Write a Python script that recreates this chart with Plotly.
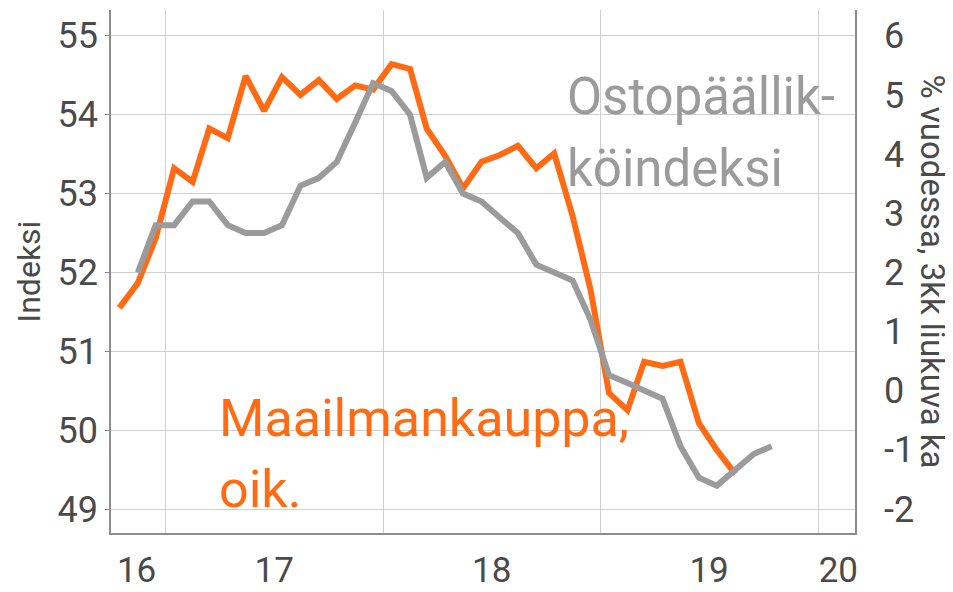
import pandas as pd
import plotly.graph_objects as go

# ---- data ----
pmi_months = pd.date_range("2016-11-01", "2019-10-01", freq="MS")
pmi_values = [52.0, 52.6, 52.6, 52.9, 52.9, 52.6, 52.5, 52.5, 52.6, 53.1, 53.2, 53.4,
              53.9, 54.4, 54.3, 54.0, 53.2, 53.4, 53.0, 52.9, 52.7, 52.5, 52.1, 52.0,
              51.9, 51.4, 50.7, 50.6, 50.5, 50.4, 49.8, 49.4, 49.3, 49.5, 49.7, 49.8]

trade_months = pd.date_range("2016-10-01", "2019-08-01", freq="MS")
trade_values = [1.40, 1.82, 2.58, 3.76, 3.53, 4.43, 4.27, 5.32, 4.73, 5.30, 5.00, 5.25,
                4.93, 5.16, 5.09, 5.52, 5.44, 4.43, 3.97, 3.42, 3.87, 3.98, 4.14, 3.76,
                4.01, 2.95, 1.71, -0.04, -0.33, 0.49, 0.42, 0.49, -0.55, -1.00, -1.41]

left_ticks = [49, 50, 51, 52, 53, 54, 55]
right_ticks = [-2, -1, 0, 1, 2, 3, 4, 5, 6]
year_lines = ["2017-01-01", "2018-01-01", "2019-01-01", "2020-01-01"]
x_label_pos = ["2016-11-13", "2017-07-02", "2018-07-02", "2019-07-02", "2020-02-04"]
x_label_text = ["16", "17", "18", "19", "20"]

ORANGE = "#FF6A13"
GRAY = "#9B9B9B"
TXT = "#4A4A4A"
GRID = "#CFCFCF"
AXL = "#8C8C8C"
FONT = "Roboto"

mid = pd.Timedelta(days=14)
xrange_ = ["2016-10-01", "2020-03-03"]

fig = go.Figure()
# orange on the base (right-side) axis so the gray line is drawn on top
fig.add_trace(go.Scatter(x=trade_months + mid, y=trade_values, mode="lines",
                         line=dict(color=ORANGE, width=6), yaxis="y", xaxis="x",
                         name="Maailmankauppa"))
fig.add_trace(go.Scatter(x=pmi_months + mid, y=pmi_values, mode="lines",
                         line=dict(color=GRAY, width=6), yaxis="y2", xaxis="x",
                         name="Ostopäällikköindeksi"))
# empty trace so the label-only x axis gets drawn
fig.add_trace(go.Scatter(x=[], y=[], xaxis="x2", yaxis="y", hoverinfo="skip"))

# page body has an 8px default margin -> size the figure so the plot area lands right
fig.update_layout(
    width=945, height=584,
    margin=dict(l=103, r=98, t=2, b=59, autoexpand=False),
    paper_bgcolor="white", plot_bgcolor="white",
    showlegend=False,
    font=dict(family=FONT, color=TXT),
    xaxis=dict(type="date", range=xrange_, tickvals=year_lines, showticklabels=False,
               showgrid=True, gridcolor=GRID, gridwidth=1, showline=True, linecolor=AXL,
               linewidth=1.5, ticks="", zeroline=False, automargin=False),
    xaxis2=dict(type="date", range=xrange_, overlaying="x", anchor="y", side="bottom",
                tickvals=x_label_pos, ticktext=x_label_text, showgrid=False, showline=False,
                ticks="", tickfont=dict(size=35, color=TXT), ticklabelstandoff=13,
                zeroline=False, automargin=False),
    yaxis=dict(side="right", range=[-2.405, 6.435], tickvals=right_ticks,
               ticktext=[str(v) for v in right_ticks],
               showgrid=False, showline=True, linecolor=AXL, linewidth=1.5, ticks="",
               tickfont=dict(size=36, color=TXT), ticklabelstandoff=20, zeroline=False,
               automargin=False),
    yaxis2=dict(side="left", overlaying="y", range=[48.70, 55.326], tickvals=left_ticks,
                showgrid=True, gridcolor=GRID, gridwidth=1, showline=True, linecolor=AXL,
                linewidth=1.5, ticks="outside", ticklen=4, tickcolor=AXL,
                tickfont=dict(size=36, color=TXT), zeroline=False, automargin=False),
)

W, L = 744, 111
H, B = 523, 533
def px(x):
    return (x - L) / W
def py(y):
    return (B - y) / H

ann = [
    dict(text="Ostopäällik-", x=px(565), y=py(97), color=GRAY, size=51, angle=0, xa="left"),
    dict(text="köindeksi", x=px(565), y=py(168), color=GRAY, size=51, angle=0, xa="left"),
    dict(text="Maailmankauppa,", x=px(217), y=py(418), color=ORANGE, size=52, angle=0, xa="left"),
    dict(text="oik.", x=px(217), y=py(489), color=ORANGE, size=52, angle=0, xa="left"),
    dict(text="Indeksi", x=px(28), y=0.5, color=TXT, size=32, angle=-90, xa="center"),
    dict(text="% vuodessa, 3kk liukuva ka", x=px(932), y=0.5, color=TXT, size=33, angle=90, xa="center"),
]
for a in ann:
    fig.add_annotation(text=a["text"], x=a["x"], y=a["y"], xref="paper", yref="paper",
                       xanchor=a["xa"], yanchor="middle", showarrow=False, textangle=a["angle"],
                       font=dict(family=FONT, size=a["size"], color=a["color"]))

fig.write_html("out.html")
